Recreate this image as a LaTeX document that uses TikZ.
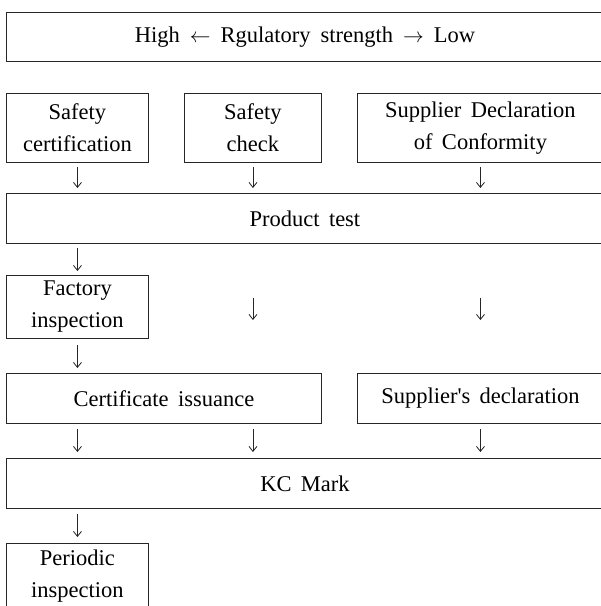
\documentclass[tikz,border=0pt]{standalone}
\usepackage{fontspec}
\setmainfont{Liberation Serif}[Ligatures=TeXOff]
\usetikzlibrary{arrows.meta}
\begin{document}
\begin{tikzpicture}[x=1pt,y=1pt,
  box/.style={draw=black!85, line width=0.9pt, anchor=north west, inner sep=0pt,
    align=center, font=\fontsize{22.5}{32}\selectfont},
  arr/.style={draw=black!85, line width=0.8pt, -{Straight Barb[length=5pt,width=8pt]}}]
\useasboundingbox (0,0) rectangle (601,-606);
\clip (0,0) rectangle (601,-606);
% top
\node[box, minimum width=597pt, minimum height=49pt] (top) at (6,-12)
  {High\;\,$\leftarrow$\;\,Rgulatory\;\,strength\;\,$\rightarrow$\;\,Low};
% row 2
\node[box, minimum width=142pt, minimum height=69pt] (sc) at (6,-93) {Safety\\certification};
\node[box, minimum width=137pt, minimum height=69pt] (sk) at (184,-93) {Safety\\check};
\node[box, minimum width=246pt, minimum height=69pt] (sd) at (357,-93) {Supplier\, Declaration\\of\, Conformity};
% product test
\node[box, minimum width=597pt, minimum height=50pt] (pt) at (6,-193) {Product\, test};
% factory
\node[box, minimum width=142pt, minimum height=63pt] (fi) at (6,-275) {Factory\\inspection};
% certificate / supplier
\node[box, minimum width=315pt, minimum height=50pt] (ci) at (6,-373) {Certificate\, issuance};
\node[box, minimum width=246pt, minimum height=50pt] (sdl) at (357,-373) {Supplier's\, declaration};
% KC
\node[box, minimum width=597pt, minimum height=50pt] (kc) at (6,-458) {KC\, Mark};
% periodic
\node[box, minimum width=142pt, minimum height=66pt] (pi) at (6,-543) {Periodic\\inspection};
% helper coordinates for the middle column
\coordinate (mA) at (pt.south -| sk.south);
\coordinate (mB) at (ci.north -| sk.south);
\coordinate (mC) at (ci.south -| sk.south);
\coordinate (mD) at (kc.north -| sk.south);
% arrows
\draw[arr, shorten <=4pt, shorten >=5pt] (sc.south) -- (sc.south |- pt.north);
\draw[arr, shorten <=4pt, shorten >=5pt] (sk.south) -- (sk.south |- pt.north);
\draw[arr, shorten <=4pt, shorten >=5pt] (sd.south) -- (sd.south |- pt.north);
\draw[arr, shorten <=4pt, shorten >=4pt] (pt.south -| fi.south) -- (fi.north);
\draw[arr, shorten <=54pt, shorten >=53pt] (mA) -- (mB);
\draw[arr, shorten <=54pt, shorten >=53pt] (pt.south -| sdl.north) -- (sdl.north);
\draw[arr, shorten <=6pt, shorten >=5pt] (fi.south) -- (fi.south |- ci.north);
\draw[arr, shorten <=5pt, shorten >=6pt] (ci.south -| fi.south) -- (kc.north -| fi.south);
\draw[arr, shorten <=5pt, shorten >=6pt] (mC) -- (mD);
\draw[arr, shorten <=5pt, shorten >=6pt] (sdl.south) -- (sdl.south |- kc.north);
\draw[arr, shorten <=5pt, shorten >=6pt] (kc.south -| pi.north) -- (pi.north);
\end{tikzpicture}
\end{document}
